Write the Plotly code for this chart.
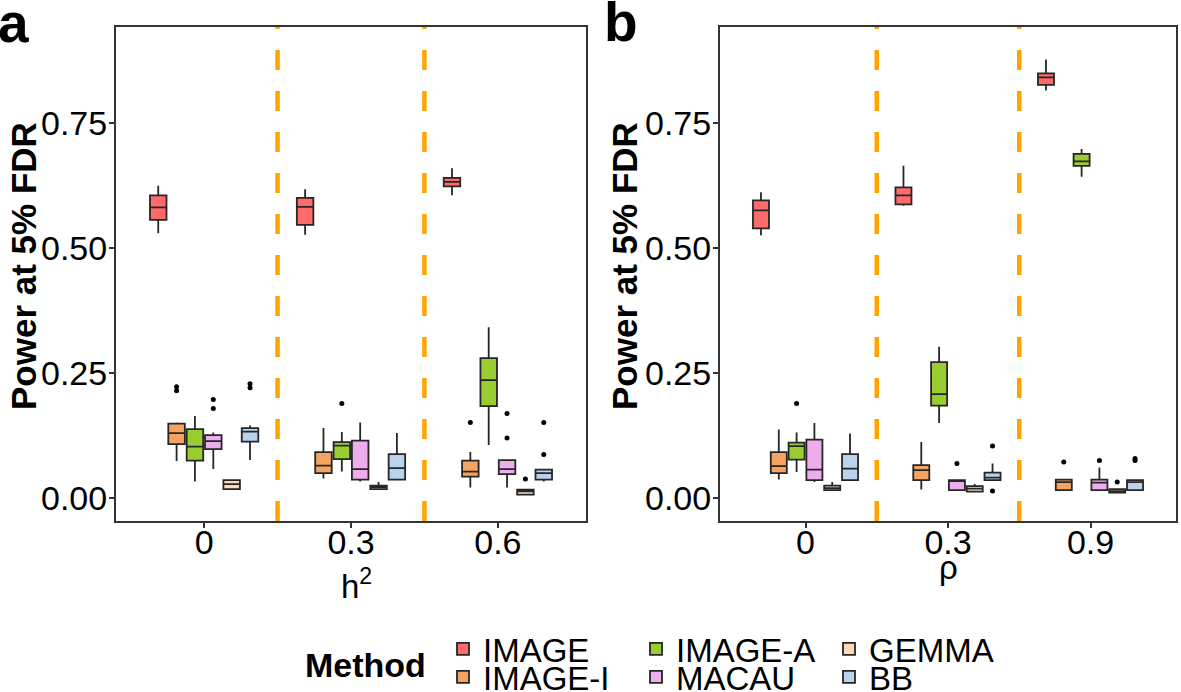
import plotly.graph_objects as go

# ---------------- data ----------------
methods = ["IMAGE", "IMAGE-I", "IMAGE-A", "MACAU", "GEMMA", "BB"]
colors = ["#FF6A6A", "#F4A460", "#9ACD32", "#EEAEEE", "#FFDAB9", "#B9D3EE"]

h2_levels = ["0", "0.3", "0.6"]
rho_levels = ["0", "0.3", "0.9"]
y_ticks = [0.0, 0.25, 0.5, 0.75]

# panel a (h^2): rows = methods, columns = levels
a_lo = [[0.530, 0.527, 0.606], [0.074, 0.039, 0.021], [0.033, 0.053, 0.106],
        [0.058, 0.033, 0.021], [0.016, 0.016, 0.006], [0.076, 0.035, 0.033]]
a_q1 = [[0.557, 0.547, 0.624], [0.108, 0.050, 0.043], [0.075, 0.078, 0.184],
        [0.098, 0.037, 0.048], [0.018, 0.018, 0.007], [0.113, 0.037, 0.037]]
a_med = [[0.582, 0.583, 0.633], [0.130, 0.065, 0.053], [0.103, 0.105, 0.236],
         [0.114, 0.058, 0.058], [0.028, 0.022, 0.0135], [0.133, 0.060, 0.050]]
a_q3 = [[0.606, 0.601, 0.641], [0.149, 0.092, 0.075], [0.138, 0.112, 0.280],
        [0.126, 0.115, 0.076], [0.036, 0.025, 0.017], [0.140, 0.088, 0.057]]
a_hi = [[0.625, 0.618, 0.660], [0.151, 0.140, 0.092], [0.164, 0.132, 0.342],
        [0.131, 0.151, 0.076], [0.037, 0.032, 0.018], [0.145, 0.130, 0.058]]
a_out = [[[], [], []], [[0.215, 0.223], [], [0.151]], [[], [0.189], []],
         [[0.179, 0.197], [], [0.120, 0.169]], [[], [], [0.038]],
         [[0.221, 0.229], [], [0.087, 0.151]]]

# panel b (rho)
b_lo = [[0.526, 0.585, 0.816], [0.037, 0.017, 0.016], [0.052, 0.150, 0.643],
        [0.032, 0.016, 0.016], [0.014, 0.011, 0.011], [0.034, 0.036, 0.016]]
b_q1 = [[0.540, 0.588, 0.827], [0.050, 0.036, 0.016], [0.077, 0.185, 0.665],
        [0.036, 0.016, 0.016], [0.016, 0.013, 0.011], [0.036, 0.036, 0.016]]
b_med = [[0.576, 0.606, 0.842], [0.064, 0.056, 0.032], [0.104, 0.208, 0.674],
         [0.057, 0.034, 0.031], [0.020, 0.019, 0.014], [0.059, 0.041, 0.032]]
b_q3 = [[0.596, 0.622, 0.850], [0.092, 0.066, 0.037], [0.111, 0.272, 0.689],
        [0.117, 0.036, 0.037], [0.025, 0.024, 0.018], [0.088, 0.051, 0.036]]
b_hi = [[0.612, 0.665, 0.878], [0.137, 0.112, 0.037], [0.131, 0.303, 0.699],
        [0.150, 0.036, 0.061], [0.032, 0.028, 0.018], [0.129, 0.069, 0.037]]
b_out = [[[], [], []], [[], [], [0.072]], [[0.189], [], []],
         [[], [0.069], [0.075]], [[], [], [0.032]],
         [[], [0.014, 0.104], [0.075, 0.079]]]

# ---------------- layout helpers ----------------
W, H = 1181, 692
FONT = "Liberation Sans, Arial, sans-serif"


def fx(p):
    return p / W


def fy(p):
    return 1 - p / H


def sample_rows(rows):
    # plotly needs a non-empty first row to read a 2D sample array;
    # a None placeholder adds no visible point.
    return [r if len(r) else [None] for r in rows]


legend_of = {"IMAGE": "legend", "IMAGE-A": "legend", "GEMMA": "legend",
             "IMAGE-I": "legend2", "MACAU": "legend2", "BB": "legend2"}

fig = go.Figure()

panels = [
    ("x", "y", h2_levels, a_lo, a_q1, a_med, a_q3, a_hi, a_out, True),
    ("x2", "y2", rho_levels, b_lo, b_q1, b_med, b_q3, b_hi, b_out, False),
]

for xa, ya, levels, lo, q1, med, q3, hi, out, show in panels:
    for i, m in enumerate(methods):
        fig.add_trace(go.Box(
            name=m, x=levels, q1=q1[i], median=med[i], q3=q3[i],
            lowerfence=lo[i], upperfence=hi[i], y=sample_rows(out[i]),
            orientation="v",
            alignmentgroup="panel_" + xa, offsetgroup=m,
            boxpoints="outliers", jitter=0, pointpos=0,
            marker=dict(color="black", size=5),
            line=dict(color="#262626", width=1.8),
            fillcolor=colors[i], whiskerwidth=0,
            xaxis=xa, yaxis=ya, legendgroup=m, showlegend=show,
            legend=legend_of[m], hoverinfo="skip",
        ))

# dashed separators between categories
shapes = []
for xa, ya, levels in [("x", "y", h2_levels), ("x2", "y2", rho_levels)]:
    for k in range(len(levels) - 1):
        shapes.append(dict(type="line", xref=xa, yref=ya + " domain",
                           x0=k + 0.5, x1=k + 0.5, y0=0, y1=1,
                           line=dict(color="#FFA500", width=4.5, dash="20px,21px"),
                           layer="below"))

axis_common = dict(showline=True, mirror=True, linecolor="#333333", linewidth=2,
                   ticks="outside", ticklen=5, tickwidth=1.5, tickcolor="#333333",
                   showgrid=False, zeroline=False,
                   tickfont=dict(family=FONT, size=34, color="black"))

top, bottom = 27, 521
ydom = [fy(bottom), fy(top)]

legend_common = dict(orientation="h", x=fx(443), xanchor="left", yanchor="middle",
                     font=dict(family=FONT, size=33), entrywidth=148,
                     entrywidthmode="pixels", bgcolor="rgba(0,0,0,0)", borderwidth=0,
                     itemclick=False, itemdoubleclick=False)

fig.update_layout(
    width=W, height=H,
    margin=dict(l=0, r=0, t=0, b=0, autoexpand=False),
    paper_bgcolor="white", plot_bgcolor="white",
    font=dict(family=FONT, color="black"),
    boxmode="group", boxgap=0.25, boxgroupgap=0.1,
    xaxis=dict(domain=[fx(116), fx(586)], anchor="y", type="category",
               categoryorder="array", categoryarray=h2_levels,
               range=[-0.6, 2.6], ticklabelstandoff=-15, **axis_common),
    yaxis=dict(domain=ydom, anchor="x", range=[-0.046, 0.943],
               tickvals=y_ticks, tickformat=".2f", ticklabelstandoff=-5, **axis_common),
    xaxis2=dict(domain=[fx(720), fx(1176)], anchor="y2", type="category",
                categoryorder="array", categoryarray=rho_levels,
                range=[-0.6, 2.6], ticklabelstandoff=-15, **axis_common),
    yaxis2=dict(domain=ydom, anchor="x2", range=[-0.046, 0.943],
                tickvals=y_ticks, tickformat=".2f", ticklabelstandoff=-5, **axis_common),
    shapes=shapes,
    legend=dict(y=fy(649), **legend_common),
    legend2=dict(y=fy(677), **legend_common),
)

ann = [
    # panel letters
    dict(text="<b>a</b>", x=fx(-4), xanchor="left", y=fy(23), yanchor="middle",
         font=dict(size=55)),
    dict(text="<b>b</b>", x=fx(602), xanchor="left", y=fy(22), yanchor="middle",
         font=dict(size=55)),
    # y titles
    dict(text="<b>Power at 5% FDR</b>", textangle=-90, x=fx(23), xanchor="center",
         y=fy(266), yanchor="middle", font=dict(size=35)),
    dict(text="<b>Power at 5% FDR</b>", textangle=-90, x=fx(624), xanchor="center",
         y=fy(266), yanchor="middle", font=dict(size=35)),
    # x titles
    dict(text="h<sup>2</sup>", x=fx(356), xanchor="center", y=fy(607), yanchor="bottom",
         font=dict(size=33)),
    dict(text="ρ", x=fx(948), xanchor="center", y=fy(588), yanchor="bottom",
         font=dict(size=33)),
    # legend title
    dict(text="<b>Method</b>", x=fx(303), xanchor="left", y=fy(665), yanchor="middle",
         font=dict(size=34)),
]
for a in ann:
    a.update(xref="paper", yref="paper", showarrow=False)
    a["font"] = dict(family=FONT, color="black", **a["font"])
fig.update_layout(annotations=ann)

fig.write_html("out.html", config={"displayModeBar": False},
               post_script="document.body.style.margin='0';")
